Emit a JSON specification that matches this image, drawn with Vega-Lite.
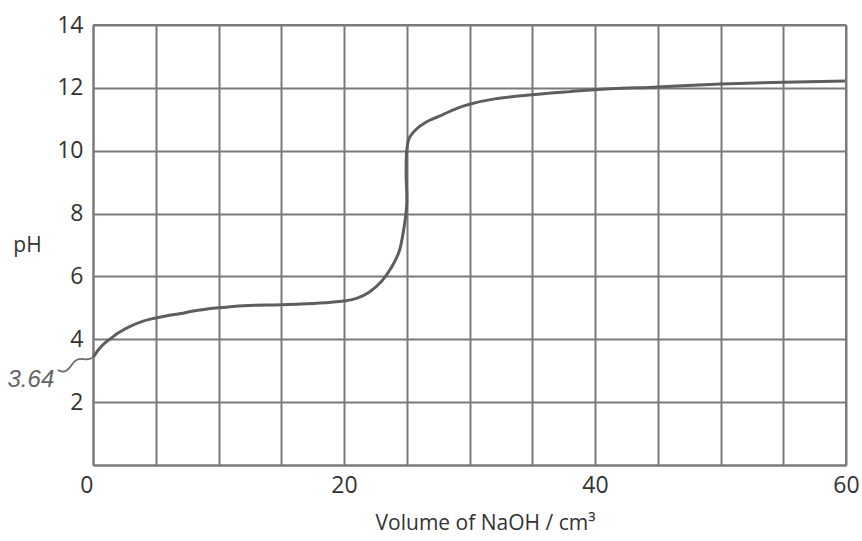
{
  "$schema": "https://vega.github.io/schema/vega-lite/v6.json",
  "width": 753,
  "height": 440,
  "autosize": "none",
  "padding": {"left": 93, "top": 25, "right": 16, "bottom": 76},
  "background": "white",
  "config": {"view": {"stroke": null}, "font": "Open Sans"},
  "datasets": {
    "curve": [
      {"i": 1, "v": 0, "ph": 3.42},
      {"i": 2, "v": 0.5, "ph": 3.7},
      {"i": 3, "v": 1, "ph": 3.9},
      {"i": 4, "v": 1.5, "ph": 4.05},
      {"i": 5, "v": 2, "ph": 4.2},
      {"i": 6, "v": 3, "ph": 4.42},
      {"i": 7, "v": 4, "ph": 4.58},
      {"i": 8, "v": 5, "ph": 4.68},
      {"i": 9, "v": 6, "ph": 4.76},
      {"i": 10, "v": 7, "ph": 4.82},
      {"i": 11, "v": 8, "ph": 4.9},
      {"i": 12, "v": 10, "ph": 5.0},
      {"i": 13, "v": 12, "ph": 5.07},
      {"i": 14, "v": 15, "ph": 5.1},
      {"i": 15, "v": 17, "ph": 5.13},
      {"i": 16, "v": 19, "ph": 5.18},
      {"i": 17, "v": 20, "ph": 5.22},
      {"i": 18, "v": 21, "ph": 5.3},
      {"i": 19, "v": 22, "ph": 5.5},
      {"i": 20, "v": 23, "ph": 5.85},
      {"i": 21, "v": 23.8, "ph": 6.3},
      {"i": 22, "v": 24.4, "ph": 6.8},
      {"i": 23, "v": 24.8, "ph": 7.6},
      {"i": 24, "v": 25.0, "ph": 8.3},
      {"i": 25, "v": 24.95, "ph": 9.3},
      {"i": 26, "v": 25.0, "ph": 10.0},
      {"i": 27, "v": 25.2, "ph": 10.4},
      {"i": 28, "v": 25.8, "ph": 10.7},
      {"i": 29, "v": 26.5, "ph": 10.9},
      {"i": 30, "v": 27.6, "ph": 11.1},
      {"i": 31, "v": 29, "ph": 11.35},
      {"i": 32, "v": 30, "ph": 11.48},
      {"i": 33, "v": 32, "ph": 11.65},
      {"i": 34, "v": 35, "ph": 11.78},
      {"i": 35, "v": 38, "ph": 11.88},
      {"i": 36, "v": 40, "ph": 11.94},
      {"i": 37, "v": 45, "ph": 12.03},
      {"i": 38, "v": 50, "ph": 12.12},
      {"i": 39, "v": 55, "ph": 12.18},
      {"i": 40, "v": 60, "ph": 12.22}
    ],
    "squiggle": [
      {"i": 1, "v": -2.79, "ph": 3.02},
      {"i": 2, "v": -2.31, "ph": 2.93},
      {"i": 3, "v": -1.83, "ph": 3.09},
      {"i": 4, "v": -1.51, "ph": 3.31},
      {"i": 5, "v": -1.04, "ph": 3.4},
      {"i": 6, "v": -0.56, "ph": 3.34},
      {"i": 7, "v": -0.08, "ph": 3.4}
    ],
    "note": [{"v": -4.95, "ph": 2.72, "t": "3.64"}]
  },
  "layer": [
    {
      "data": {"name": "curve"},
      "mark": {"type": "line", "color": "#5e5e5e", "strokeWidth": 3, "interpolate": "catmull-rom"},
      "encoding": {
        "x": {
          "field": "v", "type": "quantitative",
          "scale": {"domain": [0, 60], "nice": false, "zero": false},
          "axis": {
            "values": [0, 5, 10, 15, 20, 25, 30, 35, 40, 45, 50, 55, 60],
            "labelExpr": "datum.value % 20 === 0 ? datum.label : ''",
            "labelAlign": {"condition": {"test": "datum.value === 0", "value": "right"}, "value": "center"},
            "ticks": false,
            "grid": true,
            "gridColor": "#7a7a7a",
            "gridWidth": 2,
            "gridOpacity": 1,
            "domainColor": "#7a7a7a",
            "domainWidth": 2,
            "labelFontSize": 23,
            "labelColor": "#333333",
            "labelPadding": 9,
            "labelFlush": false,
            "title": "Volume of NaOH / cm³",
            "titleFontSize": 21,
            "titleFontWeight": "normal",
            "titleColor": "#333333",
            "titleX": 392,
            "titleY": 58,
            "titleAlign": "center",
            "titleBaseline": "middle"
          }
        },
        "y": {
          "field": "ph", "type": "quantitative",
          "scale": {"domain": [0, 14], "nice": false},
          "axis": {
            "values": [0, 2, 4, 6, 8, 10, 12, 14],
            "labelExpr": "datum.value === 0 ? '' : datum.label",
            "ticks": false,
            "grid": true,
            "gridColor": "#7a7a7a",
            "gridWidth": 2,
            "gridOpacity": 1,
            "domainColor": "#7a7a7a",
            "domainWidth": 2,
            "labelFontSize": 23,
            "labelColor": "#333333",
            "labelPadding": 10,
            "labelFlush": false,
            "title": "pH",
            "titleAngle": 0,
            "titleFontSize": 21,
            "titleFontWeight": "normal",
            "titleColor": "#333333",
            "titleX": -66,
            "titleY": 220,
            "titleAlign": "center",
            "titleBaseline": "middle"
          }
        },
        "order": {"field": "i", "type": "quantitative"}
      }
    },
    {
      "data": {"name": "curve"},
      "mark": {"type": "rule", "color": "#7a7a7a", "strokeWidth": 2},
      "encoding": {"x": {"datum": 60}}
    },
    {
      "data": {"name": "curve"},
      "mark": {"type": "rule", "color": "#7a7a7a", "strokeWidth": 2},
      "encoding": {"y": {"datum": 14}}
    },
    {
      "data": {"name": "squiggle"},
      "mark": {"type": "line", "color": "#6a6a6a", "strokeWidth": 1.8, "interpolate": "basis", "clip": false},
      "encoding": {
        "x": {"field": "v", "type": "quantitative"},
        "y": {"field": "ph", "type": "quantitative"},
        "order": {"field": "i", "type": "quantitative"}
      }
    },
    {
      "data": {"name": "note"},
      "mark": {"type": "text", "fontSize": 24, "font": "Liberation Sans", "fontStyle": "italic", "fontWeight": "normal", "color": "#666666", "clip": false},
      "encoding": {
        "x": {"field": "v", "type": "quantitative"},
        "y": {"field": "ph", "type": "quantitative"},
        "text": {"field": "t"}
      }
    }
  ]
}
